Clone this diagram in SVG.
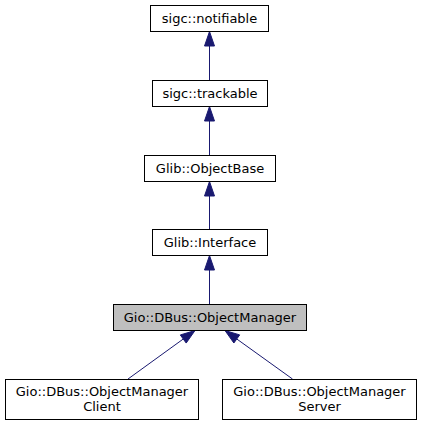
<svg xmlns="http://www.w3.org/2000/svg" width="421" height="425" viewBox="0 0 421 425">
<style>
.box{fill:#ffffff;stroke:#000000;stroke-width:1}
.cur{fill:#bfbfbf;stroke:#000000;stroke-width:1}
text{font-family:"DejaVu Sans",sans-serif;font-size:13px;fill:#000000;text-anchor:middle}
.edge line{stroke:#191970;stroke-width:1}
.edge polygon{fill:#191970;stroke:#191970;stroke-width:1}
</style>
<rect width="421" height="425" fill="#ffffff"/>
<g class="edge" id="edges">
<line x1="209.5" y1="80" x2="209.5" y2="46"/>
<polygon points="209.5,31.5 204.5,46 214.5,46"/>
<line x1="209.5" y1="155" x2="209.5" y2="121"/>
<polygon points="209.5,106.5 204.5,121 214.5,121"/>
<line x1="209.5" y1="229" x2="209.5" y2="196"/>
<polygon points="209.5,181.5 204.5,196 214.5,196"/>
<line x1="209.5" y1="304" x2="209.5" y2="270"/>
<polygon points="209.5,255.5 204.5,270 214.5,270"/>
<line x1="128" y1="379" x2="183.25" y2="339"/>
<polygon points="195,330.5 186.2,343.05 180.3,334.95"/>
<line x1="292.5" y1="379" x2="236.78" y2="338.97"/>
<polygon points="225,330.5 239.7,334.9 233.86,343.03"/>
</g>
<g id="node-notifiable">
<rect class="box" x="150.5" y="5.5" width="118" height="26"/>
<text x="209.5" y="23">sigc::notifiable</text>
</g>
<g id="node-trackable">
<rect class="box" x="152.5" y="80.5" width="115" height="26"/>
<text x="210" y="98">sigc::trackable</text>
</g>
<g id="node-objectbase">
<rect class="box" x="144.5" y="155.5" width="131" height="26"/>
<text x="210" y="173">Glib::ObjectBase</text>
</g>
<g id="node-interface">
<rect class="box" x="152.5" y="229.5" width="115" height="26"/>
<text x="210" y="247">Glib::Interface</text>
</g>
<g id="node-objectmanager">
<rect class="cur" x="113.5" y="304.5" width="193" height="26"/>
<text x="210" y="322">Gio::DBus::ObjectManager</text>
</g>
<g id="node-client">
<rect class="box" x="5.5" y="379.5" width="193" height="40"/>
<text x="102" y="396">Gio::DBus::ObjectManager</text>
<text x="102" y="411">Client</text>
</g>
<g id="node-server">
<rect class="box" x="222.5" y="379.5" width="194" height="40"/>
<text x="319.5" y="396">Gio::DBus::ObjectManager</text>
<text x="319.5" y="411">Server</text>
</g>
</svg>
